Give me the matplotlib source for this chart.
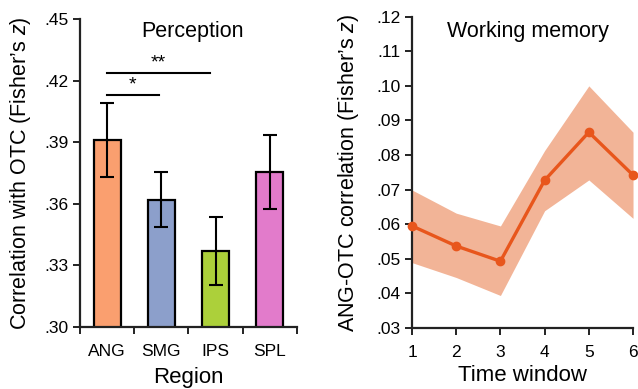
import matplotlib
matplotlib.use("Agg")
import matplotlib.pyplot as plt
from matplotlib.ticker import FuncFormatter, FixedLocator

plt.rcParams['font.family'] = ['Liberation Sans', 'DejaVu Sans']
plt.rcParams['mathtext.fontset'] = 'custom'
plt.rcParams['mathtext.it'] = 'Liberation Sans:italic'
plt.rcParams['mathtext.rm'] = 'Liberation Sans'

# perception panel data
regions = ['ANG', 'SMG', 'IPS', 'SPL']
perc_mean = [0.391, 0.362, 0.337, 0.3755]
perc_err = [0.018, 0.0135, 0.0167, 0.018]
bar_colors = ['#FA9F6F', '#8C9FCB', '#ACD03A', '#E27BCB']
sig_pairs = [(0, 0.95, 0.413, '*'), (0, 1.9, 0.4237, '**')]

# working memory panel data
windows = [1, 2, 3, 4, 5, 6]
wm_mean = [0.0595, 0.0537, 0.0493, 0.0727, 0.0866, 0.0742]
wm_upper = [0.0699, 0.0632, 0.0595, 0.0813, 0.1000, 0.0866]
wm_lower = [0.0489, 0.0446, 0.0394, 0.0639, 0.0728, 0.0617]

tick_fs = 12.5
label_fs = 15.5
title_fs = 15.5

fig = plt.figure(figsize=(6.38, 3.89), dpi=100)
ax1 = fig.add_axes([0.1254, 0.1594, 0.340, 0.7918])
ax2 = fig.add_axes([0.6458, 0.1568, 0.3464, 0.8003])

def strip_zero(v, pos):
    return ('%.2f' % v).lstrip('0')

for ax in (ax1, ax2):
    for s in ['top', 'right']:
        ax.spines[s].set_visible(False)
    for s in ['left', 'bottom']:
        ax.spines[s].set_linewidth(1.6)
        ax.spines[s].set_color('#222222')
    ax.tick_params(direction='out', width=1.4, length=5, labelsize=tick_fs, color='#222222')
    ax.yaxis.set_major_formatter(FuncFormatter(strip_zero))

# left: bars
x = range(len(regions))
ax1.bar(x, perc_mean, width=0.5, color=bar_colors, edgecolor='black', linewidth=1.6, zorder=2)
ax1.errorbar(x, perc_mean, yerr=perc_err, fmt='none', ecolor='black', elinewidth=1.5,
             capsize=5, capthick=1.5, zorder=3)
for x0, x1, y, lab in sig_pairs:
    ax1.plot([x0, x1], [y, y], color='black', lw=1.5)
    ax1.text((x0 + x1) / 2, y + 0.0005, lab, ha='center', va='bottom', fontsize=14)
ax1.set_xlim(-0.5, 3.5)
ax1.set_ylim(0.30, 0.45)
ax1.set_yticks([0.30, 0.33, 0.36, 0.39, 0.42, 0.45])
ax1.xaxis.set_major_locator(FixedLocator([-0.5, 0.5, 1.5, 2.5, 3.5]))
ax1.xaxis.set_major_formatter(FuncFormatter(lambda v, p: ''))
ax1.xaxis.set_minor_locator(FixedLocator(list(x)))
ax1.set_xticklabels(regions, minor=True)
ax1.tick_params(axis='x', which='minor', length=0, labelsize=tick_fs, pad=12)
ax1.set_xlabel('Region', fontsize=16, labelpad=6)
ax1.set_ylabel('Correlation with OTC (Fisher\u2019s $z$)', fontsize=label_fs, labelpad=8)
ax1.text(0.52, 0.9425, 'Perception', transform=ax1.transAxes, ha='center', va='baseline',
         fontsize=title_fs)

# right: line with band
ax2.fill_between(windows, wm_lower, wm_upper, color='#F2B497', lw=0, zorder=1)
ax2.plot(windows, wm_mean, color='#E8561C', lw=2.4, marker='o', markersize=6, zorder=3,
         clip_on=False)
ax2.set_xlim(1, 6)
ax2.set_ylim(0.03, 0.12)
ax2.set_xticks(windows)
ax2.set_yticks([0.03, 0.04, 0.05, 0.06, 0.07, 0.08, 0.09, 0.10, 0.11, 0.12])
ax2.tick_params(axis='x', pad=7)
ax2.set_xlabel('Time window', fontsize=16, labelpad=4)
ax2.set_ylabel('ANG-OTC correlation (Fisher\u2019s $z$)', fontsize=label_fs, labelpad=11)
ax2.text(0.523, 0.9358, 'Working memory', transform=ax2.transAxes, ha='center', va='baseline',
         fontsize=title_fs)

fig.savefig('out.png', dpi=100)
